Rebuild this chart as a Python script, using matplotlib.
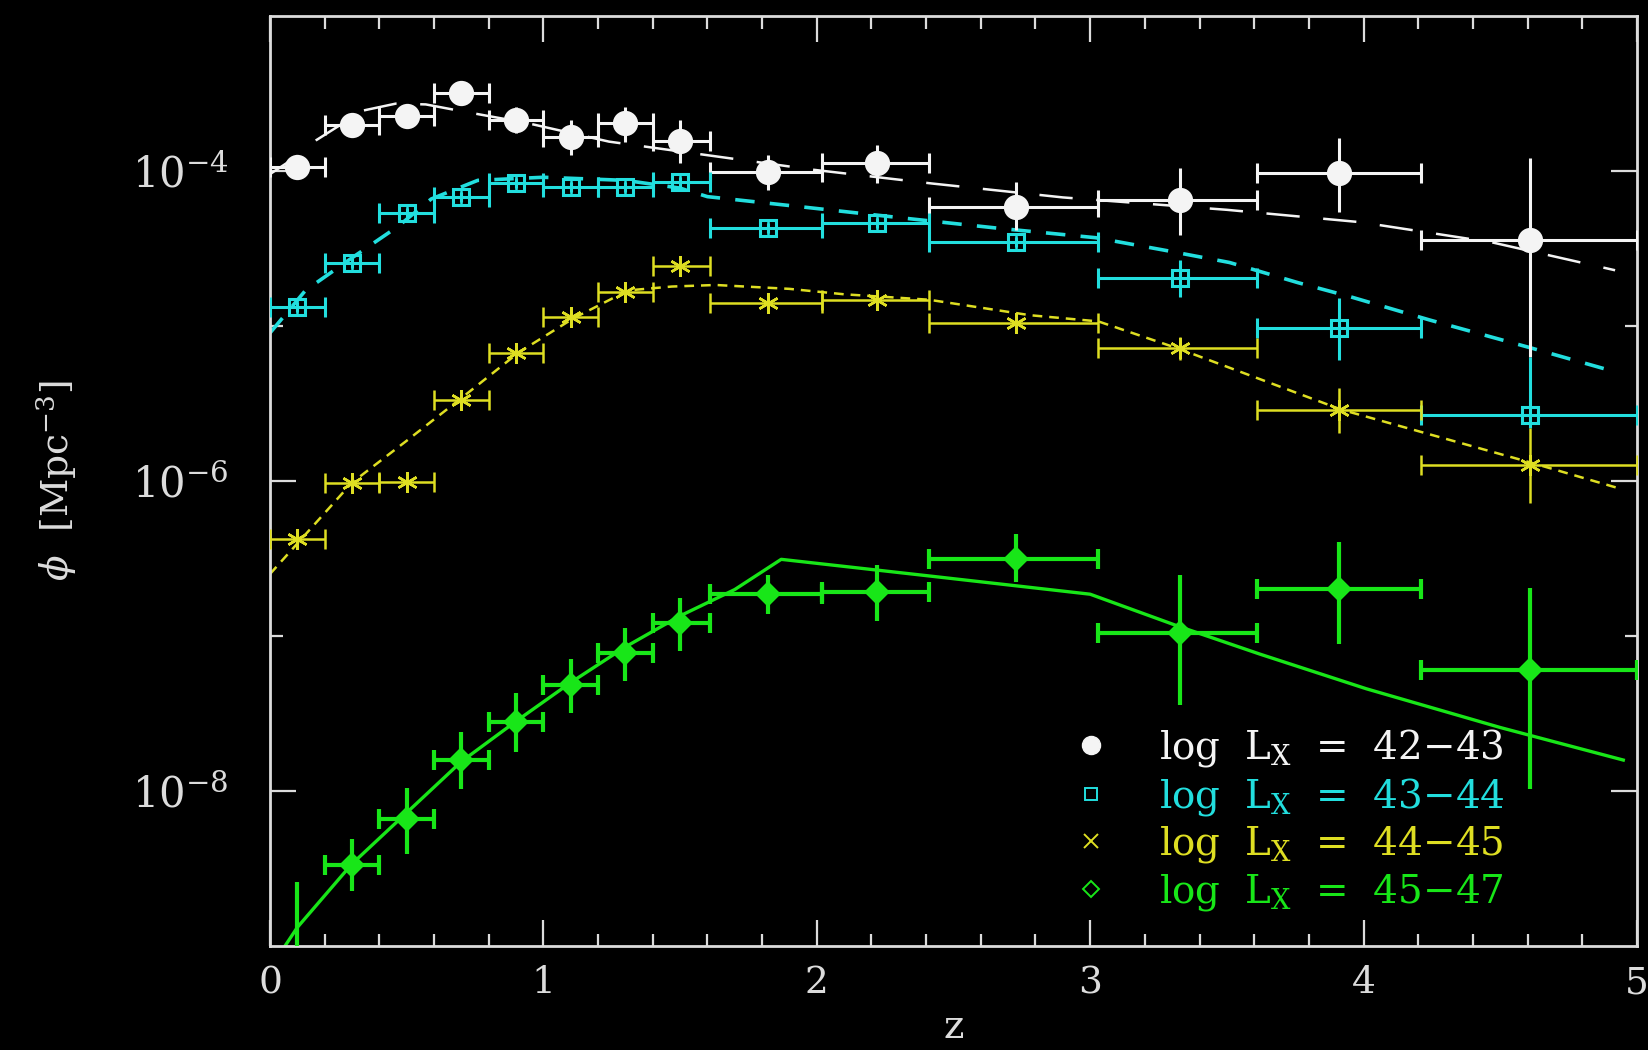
import numpy as np
import matplotlib
matplotlib.use("Agg")
import matplotlib.pyplot as plt
from matplotlib.lines import Line2D
from matplotlib.ticker import FixedLocator, LogFormatterSciNotation, NullFormatter, MultipleLocator

plt.rcParams['font.family'] = 'DejaVu Serif'
plt.rcParams['mathtext.fontset'] = 'dejavuserif'
plt.rcParams['lines.scale_dashes'] = False

# redshift bins (same for every luminosity class)
z_mid = np.array([0.1, 0.3, 0.5, 0.7, 0.9, 1.1, 1.3, 1.5, 1.82, 2.22, 2.73, 3.33, 3.91, 4.61])
z_lo = np.array([0.0, 0.2, 0.4, 0.6, 0.8, 1.0, 1.2, 1.4, 1.61, 2.02, 2.41, 3.03, 3.61, 4.21])
z_hi = np.array([0.2, 0.4, 0.6, 0.8, 1.0, 1.2, 1.4, 1.61, 2.02, 2.41, 3.03, 3.61, 4.21, 5.0])

# log10(phi) values, with upper / lower ends of the error bars
w_log = [-3.974, -3.703, -3.645, -3.497, -3.671, -3.781, -3.69, -3.806, -4.006, -3.948, -4.232, -4.187, -4.013, -4.445]
w_hi = [-3.934, -3.663, -3.587, -3.457, -3.587, -3.671, -3.587, -3.671, -3.897, -3.832, -4.071, -3.98, -3.787, -3.916]
w_lo = [-4.014, -3.743, -3.723, -3.537, -3.755, -3.897, -3.813, -3.948, -4.123, -4.077, -4.381, -4.413, -4.265, -5.2]

c_log = [-4.877, -4.594, -4.271, -4.168, -4.077, -4.103, -4.103, -4.071, -4.368, -4.335, -4.458, -4.69, -5.013, -5.574]
c_hi = [-4.847, -4.564, -4.241, -4.138, -4.047, -4.073, -4.073, -4.041, -4.338, -4.305, -4.428, -4.574, -4.82, -5.2]
c_lo = [-4.907, -4.624, -4.301, -4.198, -4.107, -4.133, -4.133, -4.101, -4.398, -4.365, -4.488, -4.813, -5.22, -5.66]

y_log = [-6.376, -6.01, -6.003, -5.477, -5.174, -4.942, -4.781, -4.613, -4.852, -4.832, -4.98, -5.142, -5.542, -5.897]
y_hi = [-6.346, -5.98, -5.973, -5.447, -5.144, -4.912, -4.751, -4.583, -4.822, -4.802, -4.95, -5.07, -5.4, -5.658]
y_lo = [-6.406, -6.04, -6.033, -5.507, -5.204, -4.972, -4.811, -4.643, -4.882, -4.862, -5.01, -5.22, -5.69, -6.142]

g_log = [-9.1, -8.477, -8.181, -7.8, -7.555, -7.316, -7.11, -6.916, -6.729, -6.716, -6.503, -6.981, -6.697, -7.219]
g_hi = [-8.587, -8.31, -7.98, -7.619, -7.368, -7.148, -6.948, -6.755, -6.606, -6.542, -6.342, -6.606, -6.394, -6.69]
g_lo = [-9.6, -8.645, -8.406, -7.987, -7.748, -7.497, -7.29, -7.097, -6.858, -6.903, -6.652, -7.445, -7.05, -7.987]

# model curves
w_mz = [0.0, 0.12, 0.17, 0.34, 0.46, 0.57, 0.69, 0.94, 1.24, 1.61, 1.98, 2.42, 2.9, 3.5, 3.99, 4.47, 4.92]
w_ml = [-4.02, -3.88, -3.80, -3.61, -3.565, -3.57, -3.61, -3.69, -3.81, -3.90, -3.99, -4.08, -4.17, -4.25, -4.33, -4.46, -4.64]
c_mz = [0.0, 0.13, 0.3, 0.47, 0.59, 0.76, 1.0, 1.3, 1.5, 1.6, 1.94, 2.3, 2.67, 3.02, 3.27, 3.51, 3.76, 3.95, 4.24, 4.61, 4.93]
c_ml = [-5.045, -4.77, -4.56, -4.355, -4.18, -4.06, -4.04, -4.06, -4.11, -4.165, -4.23, -4.30, -4.37, -4.43, -4.51, -4.59, -4.72, -4.81, -4.96, -5.14, -5.30]
y_mz = [0.0, 0.3, 0.5, 0.7, 0.91, 1.11, 1.31, 1.47, 1.63, 1.9, 2.1, 2.41, 2.78, 3.03, 3.33, 3.92, 4.61, 4.94]
y_ml = [-6.6, -6.01, -5.74, -5.465, -5.17, -4.95, -4.77, -4.745, -4.735, -4.76, -4.795, -4.83, -4.93, -4.97, -5.15, -5.54, -5.88, -6.05]
g_mz = [0.055, 0.1, 0.3, 0.5, 0.7, 0.9, 1.1, 1.3, 1.5, 1.7, 1.87, 2.4, 3.0, 3.32, 3.62, 4.01, 4.5, 4.95]
g_ml = [-9.0, -8.88, -8.47, -8.14, -7.81, -7.55, -7.30, -7.07, -6.87, -6.70, -6.505, -6.61, -6.73, -6.935, -7.116, -7.34, -7.59, -7.8]

labels = [r'log  L$_{\rm X}$  =  42$-$43', r'log  L$_{\rm X}$  =  43$-$44',
          r'log  L$_{\rm X}$  =  44$-$45', r'log  L$_{\rm X}$  =  45$-$47']

WHITE = '#f4f4f4'
CYAN = '#22dede'
YELLOW = '#dede22'
GREEN = '#18e618'
AXC = '#dcdcdc'

fig = plt.figure(figsize=(16.48, 10.5), dpi=100, facecolor='black')
ax = fig.add_axes([0.1638, 0.099, 0.8295, 0.8857])
ax.set_facecolor('black')

def series(val, hi, lo, col, lw, mk, ms, model_z, model_l, dash, mlw, mfc):
    phi = 10 ** np.array(val)
    up = 10 ** np.array(hi) - phi
    dn = phi - 10 ** np.array(lo)
    # model
    ln, = ax.plot(model_z, 10 ** np.array(model_l), color=col, lw=mlw, zorder=2)
    if dash is not None:
        ln.set_dashes(dash)
    # horizontal bin bars with caps
    ax.errorbar(z_mid, phi, xerr=[z_mid - z_lo, z_hi - z_mid], fmt='none',
                ecolor=col, elinewidth=lw, capsize=7, capthick=lw, zorder=3)
    # vertical error bars, no caps
    ax.errorbar(z_mid, phi, yerr=[dn, up], fmt='none', ecolor=col,
                elinewidth=lw, capsize=0, zorder=3)
    ax.plot(z_mid, phi, ls='none', marker=mk, ms=ms, mfc=mfc, mec=col,
            mew=lw, zorder=4)
    return phi

series(w_log, w_hi, w_lo, WHITE, 2.2, 'o', 16, w_mz, w_ml, (24, 17), 1.8, WHITE)
cphi = series(c_log, c_hi, c_lo, CYAN, 2.2, 's', 12, c_mz, c_ml, (14, 11), 2.6, 'none')
ax.plot(z_mid, cphi, ls='none', marker='+', ms=12, mec=CYAN, mew=1.8, zorder=4)
series(y_log, y_hi, y_lo, YELLOW, 1.8, (6, 2, 0), 15, y_mz, y_ml, (7, 5), 1.8, YELLOW)
series(g_log, g_hi, g_lo, GREEN, 3.0, 'D', 10, g_mz, g_ml, None, 2.4, GREEN)

ax.set_yscale('log')
ax.set_xlim(0, 5)
ax.set_ylim(1e-9, 1e-3)

ax.xaxis.set_major_locator(MultipleLocator(1))
ax.xaxis.set_minor_locator(MultipleLocator(0.2))
ax.yaxis.set_major_locator(FixedLocator([1e-8, 1e-6, 1e-4]))
ax.yaxis.set_minor_locator(FixedLocator([1e-7, 1e-5]))
ax.yaxis.set_major_formatter(LogFormatterSciNotation())
ax.yaxis.set_minor_formatter(NullFormatter())

ax.tick_params(which='both', direction='in', top=True, right=True,
               color=AXC, labelcolor=AXC, width=1.6)
ax.tick_params(which='major', length=19)
ax.tick_params(which='minor', length=9)
ax.tick_params(axis='y', which='major', labelsize=30, pad=30)
ax.tick_params(axis='x', which='major', labelsize=27, pad=14)
for s in ax.spines.values():
    s.set_color(AXC)
    s.set_linewidth(2.0)

ax.set_xlabel('z', color=AXC, fontsize=28)
ax.xaxis.set_label_coords(0.5, -0.068)
ax.set_ylabel(r'$\phi$  [Mpc$^{-3}$]', color=AXC, fontsize=27)
ax.yaxis.set_label_coords(-0.14, 0.5)

handles = [
    Line2D([], [], ls='none', marker='o', ms=13, mfc=WHITE, mec=WHITE),
    Line2D([], [], ls='none', marker='s', ms=9, mfc='none', mec=CYAN, mew=1.4),
    Line2D([], [], ls='none', marker='x', ms=10, mec=YELLOW, mew=1.4),
    Line2D([], [], ls='none', marker='D', ms=8, mfc='none', mec=GREEN, mew=1.4),
]
ax.legend(handles, labels, loc='upper left', bbox_to_anchor=(0.575, 0.252),
          frameon=False, fontsize=28, handlelength=1.0, handletextpad=1.25,
          labelspacing=0.17, borderaxespad=0,
          labelcolor=[WHITE, CYAN, YELLOW, GREEN])

fig.savefig('out.png', dpi=100, facecolor='black')
